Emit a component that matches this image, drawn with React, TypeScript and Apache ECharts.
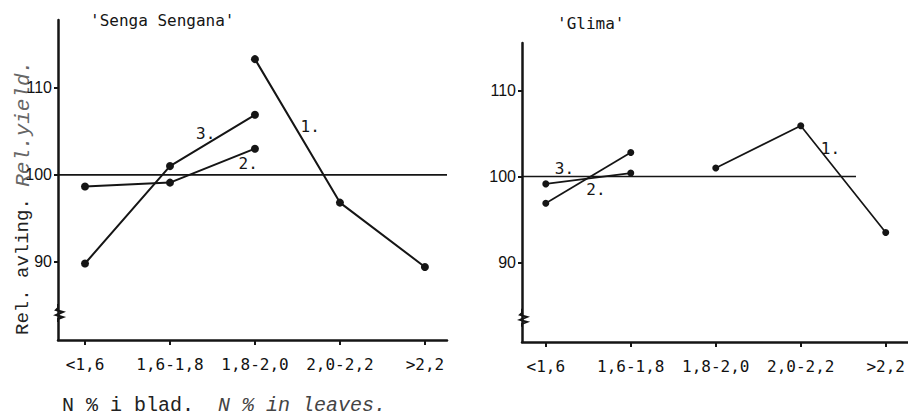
import React, { useEffect, useRef } from "react";
import * as echarts from "echarts";

// ---- data ----
const categories = ["<1,6", "1,6-1,8", "1,8-2,0", "2,0-2,2", ">2,2"];
const yTicks = [90, 100, 110];
const xTicks = [0, 1, 2, 3, 4];
const referenceValue = 100;

const sengaCurve1 = [null, null, 113.3, 96.8, 89.4];
const sengaCurve2 = [98.65, 99.1, 103.0, null, null];
const sengaCurve3 = [89.8, 101.0, 106.9, null, null];

const glimaCurve1 = [null, null, 101.0, 105.9, 93.5];
const glimaCurve2 = [96.9, 102.8, null, null, null];
const glimaCurve3 = [99.15, 100.4, null, null, null];

const curveNames = ["1.", "2.", "3."];

// ---- layout (axis ranges / annotation anchors in data units) ----
const sengaXRange = [-0.318, 4.26];
const glimaXRange = [-0.28, 4.26];
const sengaYRange = [81, 117.8];
const glimaYRange = [80.8, 115.5];
const sengaRefEnd = 4.26;
const glimaRefEnd = 3.65;
const sengaLabelAt = [[2.65, 105.6], [1.92, 101.3], [1.42, 104.8]];
const glimaLabelAt = [[3.35, 103.2], [0.59, 98.5], [0.22, 100.9]];
const sengaBreakAt = 84.1;
const glimaBreakAt = 83.6;

const INK = "#151515";

function toPairs(values: (number | null)[]) {
  const out: number[][] = [];
  values.forEach((v, i) => {
    if (v !== null) out.push([i, v]);
  });
  return out;
}

function curve(values: (number | null)[], idx: number, width: number, size: number) {
  return {
    type: "line",
    xAxisIndex: idx,
    yAxisIndex: idx,
    data: toPairs(values),
    symbol: "circle",
    symbolSize: size,
    lineStyle: { color: INK, width },
    itemStyle: { color: INK },
    silent: true,
    z: 3,
  };
}

function refLine(idx: number, start: number, end: number, width: number) {
  return {
    type: "line",
    xAxisIndex: idx,
    yAxisIndex: idx,
    data: [
      [start, referenceValue],
      [end, referenceValue],
    ],
    symbol: "none",
    lineStyle: { color: INK, width },
    silent: true,
    z: 2,
  };
}

function xAxis(idx: number, range: number[]) {
  return {
    type: "value",
    gridIndex: idx,
    min: range[0],
    max: range[1],
    splitLine: { show: false },
    axisLine: { show: true, onZero: false, lineStyle: { color: INK, width: 2.5 } },
    axisTick: { show: true, customValues: xTicks, length: 5, lineStyle: { color: INK, width: 2 } },
    axisLabel: {
      customValues: xTicks,
      formatter: (v: number) => categories[Math.round(v)] ?? "",
      fontFamily: "DejaVu Sans Mono",
      fontSize: 16,
      color: "#111",
      margin: 16,
    },
  };
}

function yAxis(idx: number, range: number[]) {
  return {
    type: "value",
    gridIndex: idx,
    min: range[0],
    max: range[1],
    splitLine: { show: false },
    axisLine: { show: true, onZero: false, lineStyle: { color: INK, width: 2.5 } },
    axisTick: { show: true, customValues: yTicks, length: 4, lineStyle: { color: INK, width: 2 } },
    axisLabel: {
      customValues: yTicks,
      fontFamily: "Liberation Sans",
      fontSize: 16,
      color: "#111",
      margin: 6,
    },
  };
}

export default function App() {
  const ref = useRef<HTMLDivElement>(null);

  useEffect(() => {
    if (!ref.current) return;
    document.body.style.margin = "0";
    const chart = echarts.init(ref.current, null, { renderer: "svg", width: 908, height: 418 });
    chart.setOption({
      animation: false,
      backgroundColor: "#ffffff",
      grid: [
        { left: 58, top: 20, width: 389, height: 320 },
        { left: 522, top: 43, width: 386, height: 299 },
      ],
      xAxis: [xAxis(0, sengaXRange), xAxis(1, glimaXRange)],
      yAxis: [yAxis(0, sengaYRange), yAxis(1, glimaYRange)],
      series: [
        refLine(0, sengaXRange[0], sengaRefEnd, 1.8),
        curve(sengaCurve1, 0, 2, 8),
        curve(sengaCurve2, 0, 2, 8),
        curve(sengaCurve3, 0, 2, 8),
        refLine(1, glimaXRange[0], glimaRefEnd, 1.5),
        curve(glimaCurve1, 1, 1.7, 7),
        curve(glimaCurve2, 1, 1.7, 7),
        curve(glimaCurve3, 1, 1.7, 7),
      ],
    });

    const graphics: any[] = [];
    const labelFont = { fontFamily: "DejaVu Sans Mono", fontSize: 16, fill: INK };

    const addLabels = (gridIndex: number, anchors: number[][]) => {
      anchors.forEach((a, i) => {
        const p = chart.convertToPixel({ gridIndex }, a) as number[];
        graphics.push({
          type: "text",
          x: p[0],
          y: p[1],
          style: { text: curveNames[i], ...labelFont, align: "center", verticalAlign: "middle" },
          z: 10,
        });
      });
    };
    addLabels(0, sengaLabelAt);
    addLabels(1, glimaLabelAt);

    const addBreak = (gridIndex: number, xMin: number, yVal: number) => {
      const p = chart.convertToPixel({ gridIndex }, [xMin, yVal]) as number[];
      const [ax, yc] = p;
      const pts = [
        [0, -9], [0, -5], [-2, -3], [5, -1], [-2, 2], [5, 4], [0, 6], [0, 9],
      ].map(([dx, dy]) => [ax + dx, yc + dy]);
      graphics.push({
        type: "polyline",
        shape: { points: pts },
        style: { stroke: INK, lineWidth: 2, fill: "none" },
        z: 10,
      });
    };
    addBreak(0, sengaXRange[0], sengaBreakAt);
    addBreak(1, glimaXRange[0], glimaBreakAt);

    // titles
    graphics.push({
      type: "text",
      x: 90,
      y: 20,
      style: { text: "'Senga Sengana'", fontFamily: "DejaVu Sans Mono", fontSize: 16, fill: INK, align: "left", verticalAlign: "middle" },
    });
    graphics.push({
      type: "text",
      x: 557,
      y: 23,
      style: { text: "'Glima'", fontFamily: "DejaVu Sans Mono", fontSize: 16, fill: INK, align: "left", verticalAlign: "middle" },
    });

    // y-axis title (rotated)
    graphics.push({
      type: "text",
      x: 23,
      y: 335,
      rotation: Math.PI / 2,
      style: {
        text: "{a|Rel. avling. }{b|Rel.yield.}",
        align: "left",
        verticalAlign: "middle",
        rich: {
          a: { fontFamily: "Liberation Mono", fontSize: 19, fill: "#222" },
          b: { fontFamily: "Liberation Mono", fontSize: 21, fontStyle: "italic", fill: "#666" },
        },
      },
    });

    // x-axis title
    graphics.push({
      type: "text",
      x: 62,
      y: 405,
      style: {
        text: "{a|N % i blad.  }{b|N % in leaves.}",
        align: "left",
        verticalAlign: "middle",
        rich: {
          a: { fontFamily: "Liberation Mono", fontSize: 20, fill: "#222" },
          b: { fontFamily: "Liberation Mono", fontSize: 20, fontStyle: "italic", fill: "#444" },
        },
      },
    });

    chart.setOption({ graphic: graphics });

    return () => chart.dispose();
  }, []);

  return <div ref={ref} style={{ position: "absolute", left: 0, top: 0, width: 908, height: 418 }} />;
}
